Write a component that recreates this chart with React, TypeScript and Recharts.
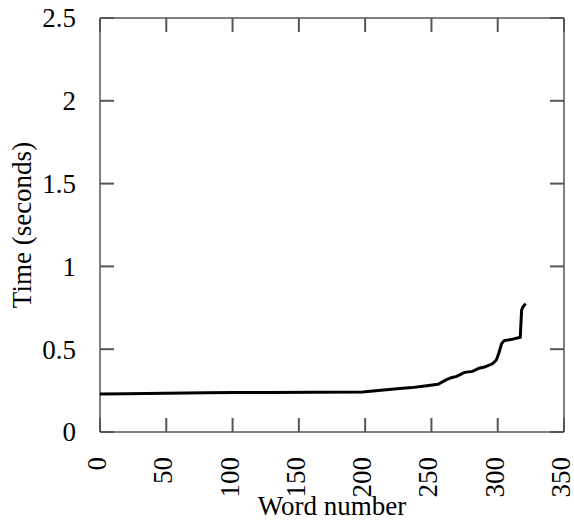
import React from 'react';
import { LineChart, Line, XAxis, YAxis } from 'recharts';

// word index along the x axis, response time in seconds
const wordNumbers = [0, 20, 50, 80, 100, 130, 160, 198, 210, 222, 235, 245, 255, 261, 265, 269, 275, 281, 286, 290, 296, 299, 301, 303, 305, 310, 317, 318, 319, 321];
const times = [0.229, 0.231, 0.234, 0.237, 0.238, 0.239, 0.240, 0.242, 0.250, 0.260, 0.268, 0.278, 0.288, 0.315, 0.328, 0.336, 0.360, 0.366, 0.385, 0.392, 0.412, 0.435, 0.480, 0.535, 0.552, 0.558, 0.572, 0.735, 0.755, 0.775];

const xTicks = [0, 50, 100, 150, 200, 250, 300, 350];
const yTicks = [0, 0.5, 1, 1.5, 2, 2.5];

const data = wordNumbers.map((w, i) => ({ w, t: times[i] }));

const FONT = '"Liberation Serif", "Times New Roman", serif';
const FONT_SIZE = 27;
const TICK_LEN = 14;
const TICK_COLOR = '#555';
const TICK_WIDTH = 2;
const X_LABEL_GAP = 25;
const Y_LABEL_GAP = 24;

// bottom: inward tick mark + rotated label
const XTick = (props: any) => {
  const { x, y, payload } = props;
  const edge = y - X_LABEL_GAP;
  return (
    <g>
      <path d={`M${x},${edge}L${x},${edge - TICK_LEN}`} stroke={TICK_COLOR} strokeWidth={TICK_WIDTH} fill="none" />
      <g transform={`translate(${x},${y}) rotate(-90)`}>
        <text x={0} y={6} textAnchor="end" fontFamily={FONT} fontSize={FONT_SIZE} fill="#000">
          {payload.value}
        </text>
      </g>
    </g>
  );
};

// left: inward tick mark + label
const YTick = (props: any) => {
  const { x, y, payload } = props;
  const edge = x + Y_LABEL_GAP;
  return (
    <g>
      <path d={`M${edge},${y}L${edge + TICK_LEN},${y}`} stroke={TICK_COLOR} strokeWidth={TICK_WIDTH} fill="none" />
      <text x={x} y={y} dy="0.35em" textAnchor="end" fontFamily={FONT} fontSize={FONT_SIZE} fill="#000">
        {payload.value}
      </text>
    </g>
  );
};

// top and right: tick marks only
const TopTick = (props: any) => {
  const { x, y } = props;
  return (
    <g>
      <path d={`M${x},${y}L${x},${y + TICK_LEN}`} stroke={TICK_COLOR} strokeWidth={TICK_WIDTH} fill="none" />
    </g>
  );
};

const RightTick = (props: any) => {
  const { x, y } = props;
  return (
    <g>
      <path d={`M${x},${y}L${x - TICK_LEN},${y}`} stroke={TICK_COLOR} strokeWidth={TICK_WIDTH} fill="none" />
    </g>
  );
};

export default function App() {
  return (
    <div style={{ position: 'absolute', left: 0, top: 0, width: 574, height: 522, background: '#fff' }}>
      <LineChart width={574} height={522} data={data} margin={{ top: 17, right: 9, left: 0, bottom: 0 }}>
        <XAxis
          xAxisId="bottom"
          dataKey="w"
          type="number"
          domain={[0, 350]}
          ticks={xTicks}
          height={90}
          tickSize={0}
          tickMargin={X_LABEL_GAP}
          tickLine={false}
          tick={<XTick />}
          stroke="#000"
          interval={0}
        />
        <XAxis
          xAxisId="top"
          orientation="top"
          dataKey="w"
          type="number"
          domain={[0, 350]}
          allowDataOverflow
          ticks={xTicks}
          height={1}
          tickSize={0}
          tickMargin={0}
          tickLine={false}
          tick={<TopTick />}
          stroke="#000"
          interval={0}
        />
        <YAxis
          yAxisId="left"
          type="number"
          domain={[0, 2.5]}
          ticks={yTicks}
          width={100}
          tickSize={0}
          tickMargin={Y_LABEL_GAP}
          tickLine={false}
          tick={<YTick />}
          stroke="#000"
          interval={0}
        />
        <YAxis
          yAxisId="right"
          orientation="right"
          type="number"
          domain={[0, 2.5]}
          allowDataOverflow
          ticks={yTicks}
          width={1}
          tickSize={0}
          tickMargin={0}
          tickLine={false}
          tick={<RightTick />}
          stroke="#000"
          interval={0}
        />
        <Line
          xAxisId="bottom"
          yAxisId="left"
          type="linear"
          dataKey="t"
          stroke="#000"
          strokeWidth={3}
          dot={false}
          isAnimationActive={false}
        />
        <text x={332} y={515} textAnchor="middle" fontFamily={FONT} fontSize={FONT_SIZE} fill="#000">
          Word number
        </text>
        <text
          transform="translate(31,225) rotate(-90)"
          textAnchor="middle"
          fontFamily={FONT}
          fontSize={FONT_SIZE}
          fill="#000"
        >
          Time (seconds)
        </text>
      </LineChart>
    </div>
  );
}
